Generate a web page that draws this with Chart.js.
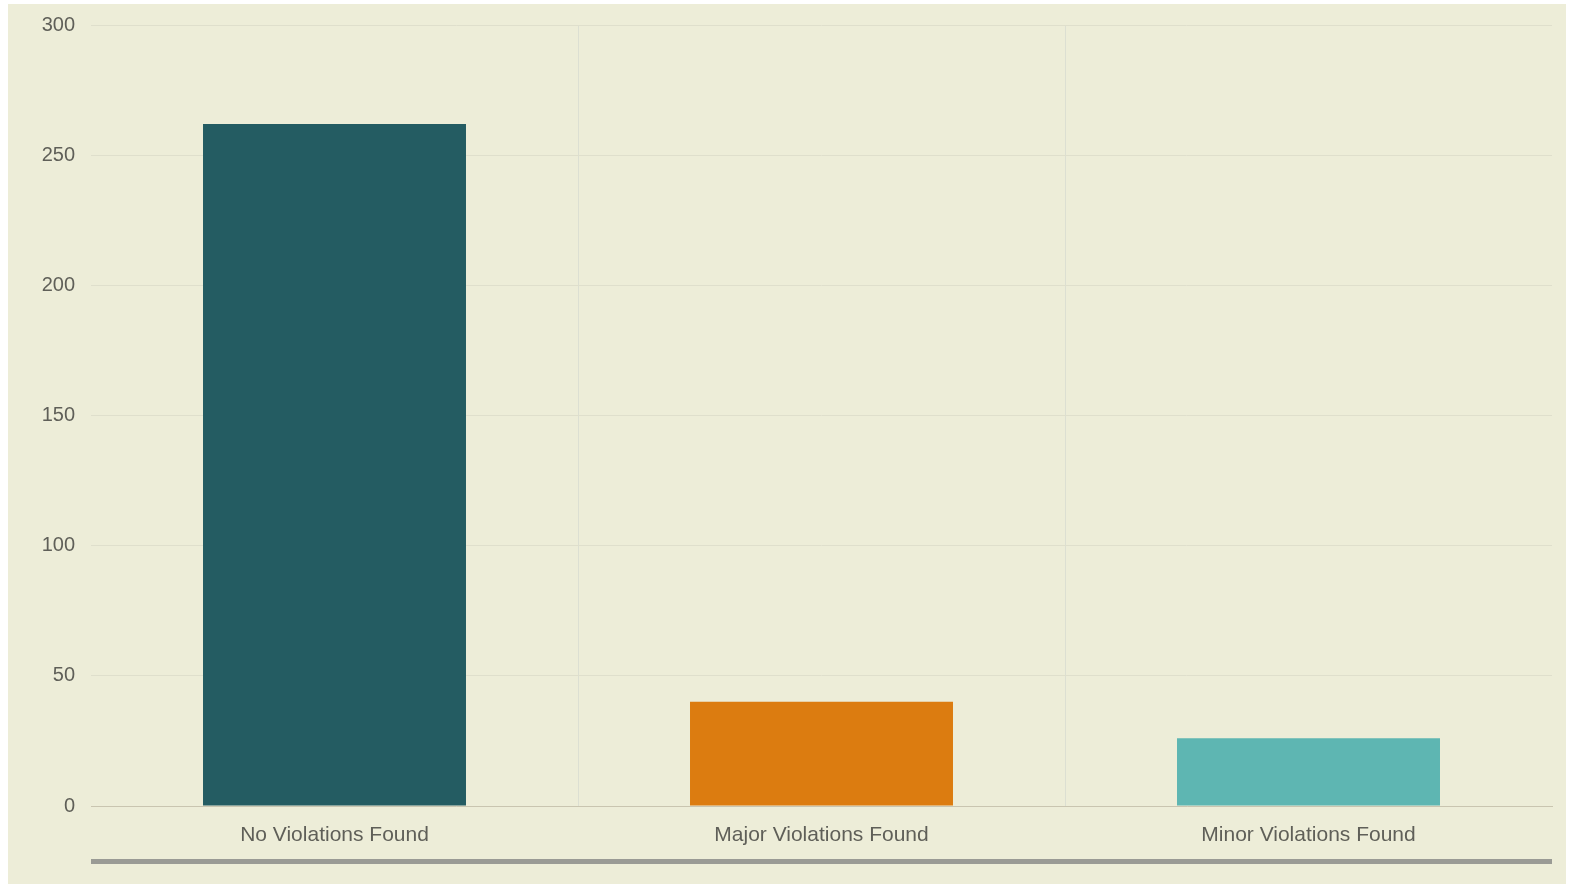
<!DOCTYPE html>
<html>
<head>
<meta charset="utf-8">
<script src="https://cdn.jsdelivr.net/npm/chart.js@4"></script>
<style>
  html, body { margin: 0; padding: 0; background: #ffffff; }
  #wrap {
    position: absolute; left: 8px; top: 4px;
    width: 1558px; height: 880px;
    background: #ededd8;
  }
</style>
</head>
<body>
<div id="wrap"><canvas id="chart"></canvas></div>
<script>
const categories = ['No Violations Found', 'Major Violations Found', 'Minor Violations Found'];
const counts = [262, 40, 26];
const barColors = ['#245c62', '#dc7c10', '#5eb6b2'];
const yTicks = [0, 50, 100, 150, 200, 250, 300];

// thick grey rule under the category labels
const bottomRule = {
    id: 'bottomRule',
    afterDraw(chart) {
        const { ctx, chartArea } = chart;
        ctx.save();
        ctx.fillStyle = '#9a9b95';
        ctx.fillRect(chartArea.left, chartArea.bottom + 53, chartArea.right - chartArea.left, 5);
        ctx.restore();
    }
};

const ctx = document.getElementById('chart').getContext('2d');
new Chart(ctx, {
    type: 'bar',
    data: {
        labels: categories,
        datasets: [{
            data: counts,
            backgroundColor: barColors,
            borderWidth: 0,
            barPercentage: 0.6,
            categoryPercentage: 0.9
        }]
    },
    options: {
        responsive: true,
        maintainAspectRatio: false,
        animation: false,
        layout: { padding: { top: 21, right: 14, left: 0, bottom: 0 } },
        plugins: {
            legend: { display: false },
            tooltip: { enabled: false }
        },
        scales: {
            x: {
                grid: {
                    offset: true,
                    drawTicks: false,
                    // only the lines between categories, not the outer edges
                    color: c => (c.type !== 'tick' || c.index === 0) ? 'rgba(0,0,0,0)' : '#dcdfd2'
                },
                border: { display: true, color: '#c9c5b0', width: 1 },
                ticks: {
                    padding: 17,
                    color: '#5f5f58',
                    font: { family: 'Liberation Sans, Arial, sans-serif', size: 21 }
                },
                afterFit: s => { s.height = 78; }
            },
            y: {
                min: 0,
                max: 300,
                afterBuildTicks: s => { s.ticks = yTicks.map(v => ({ value: v })); },
                grid: { drawTicks: false, color: '#dfdfcc' },
                border: { display: false },
                ticks: {
                    padding: 16,
                    color: '#5f5f58',
                    font: { family: 'Liberation Sans, Arial, sans-serif', size: 20 }
                },
                afterFit: s => { s.width = 83; s.paddingTop = 0; s.paddingBottom = 0; }
            }
        }
    },
    plugins: [bottomRule]
});
</script>
</body>
</html>
